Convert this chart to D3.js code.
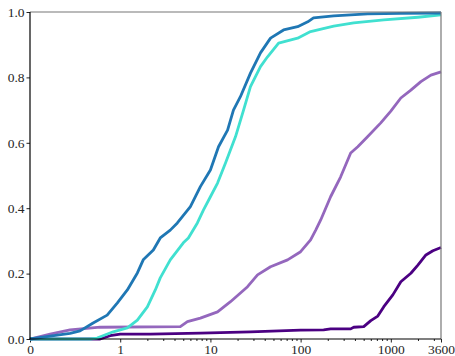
<!DOCTYPE html>
<html>
<head>
<meta charset="utf-8">
<script src="https://cdn.jsdelivr.net/npm/d3@7"></script>
<style>
  body { margin: 0; background: #fff; }
  svg { display: block; }
</style>
</head>
<body>
<div id="holder"></div>
<script>
// x values (seconds), 0 is drawn at the left edge of the log axis
const blueX = [0, 0.167, 0.278, 0.359, 0.501, 0.717, 0.926, 1.2, 1.55, 1.8, 2.33, 2.78, 3.59, 4.3, 6.0, 7.74, 10, 12.3, 15.5, 18.0, 21.5, 27.8, 35.9, 46.4, 64.7, 92.6, 120, 139, 233, 555, 1291, 3600];
const blueY = [0, 0.009, 0.017, 0.025, 0.049, 0.073, 0.110, 0.150, 0.202, 0.242, 0.272, 0.309, 0.333, 0.355, 0.405, 0.466, 0.517, 0.588, 0.639, 0.700, 0.741, 0.813, 0.875, 0.920, 0.945, 0.955, 0.970, 0.982, 0.988, 0.994, 0.996, 0.997];

const turqX = [0, 0.464, 0.555, 0.836, 1.2, 1.55, 2.0, 2.45, 2.78, 3.59, 5.01, 5.7, 7.17, 8.36, 10, 12.0, 14.7, 19.0, 23.3, 27.8, 35.9, 43.0, 57.0, 92.6, 129, 233, 388, 836, 1995, 3600];
const turqY = [0, 0, 0.003, 0.022, 0.034, 0.058, 0.098, 0.150, 0.187, 0.242, 0.294, 0.309, 0.355, 0.394, 0.435, 0.477, 0.538, 0.619, 0.700, 0.772, 0.833, 0.863, 0.905, 0.920, 0.940, 0.957, 0.967, 0.976, 0.984, 0.991];

const purpleX = [0, 0.167, 0.278, 0.599, 4.64, 5.56, 7.74, 12.0, 16.7, 25.8, 33.3, 46.4, 71.7, 100, 129, 147, 167, 215, 278, 359, 430, 555, 774, 1000, 1291, 1668, 2154, 2783, 3600];
const purpleY = [0, 0.015, 0.028, 0.036, 0.038, 0.053, 0.064, 0.083, 0.114, 0.160, 0.196, 0.221, 0.242, 0.267, 0.303, 0.333, 0.364, 0.435, 0.496, 0.569, 0.588, 0.619, 0.661, 0.697, 0.737, 0.761, 0.787, 0.807, 0.817];

const indigoX = [0, 0.6, 0.774, 1.0, 2.15, 7.74, 27.8, 100, 180, 215, 359, 388, 501, 600, 717, 836, 1053, 1291, 1668, 1995, 2449, 2929, 3600];
const indigoY = [0, 0, 0.010, 0.015, 0.015, 0.018, 0.022, 0.027, 0.028, 0.031, 0.031, 0.036, 0.038, 0.056, 0.070, 0.099, 0.135, 0.175, 0.201, 0.226, 0.257, 0.270, 0.280];

const xTicks = [0, 1, 10, 100, 1000, 3600];
const yTicks = [0, 0.2, 0.4, 0.6, 0.8, 1.0];

const series = [
    { xs: indigoX, ys: indigoY, color: "#4b0082" },
    { xs: purpleX, ys: purpleY, color: "#9467bd" },
    { xs: turqX, ys: turqY, color: "#40e0d0" },
    { xs: blueX, ys: blueY, color: "#1f77b4" }
];

const width = 455;
const height = 356;
const plotLeft = 30, plotRight = 441, plotTop = 12, plotBottom = 339;

const xMin = 0.1; // where "0" sits on the log axis
const fixX = (v) => v <= 0 ? xMin : v;

const xScale = d3.scaleLog().domain([xMin, 3600]).range([plotLeft, plotRight]);
const yScale = d3.scaleLinear().domain([0, 1]).range([plotBottom, plotTop]);

const svg = d3.select("#holder")
    .append("svg")
    .attr("width", width)
    .attr("height", height);

const styleAxis = (g) => {
    g.select(".domain").remove();
    g.selectAll("line").attr("stroke", "#222");
    g.selectAll("text")
        .attr("fill", "#262626")
        .style("font-family", "'Liberation Serif'")
        .style("font-size", "13.5px");
};

// minor x ticks
const minor = [];
[1, 10, 100, 1000].forEach(d => {
    for (let k = 2; k <= 9; k++) {
        if (d * k < 3600) minor.push(d * k);
    }
});
svg.append("g")
    .attr("transform", `translate(0, ${plotBottom})`)
    .call(d3.axisBottom(xScale).tickValues(minor).tickSize(2).tickFormat(""))
    .call(styleAxis);

const xAxis = d3.axisBottom(xScale)
    .tickValues(xTicks.map(fixX))
    .tickSize(3.5)
    .tickPadding(2)
    .tickFormat(d => d === xMin ? "0" : String(d));

svg.append("g")
    .attr("transform", `translate(0, ${plotBottom})`)
    .call(xAxis)
    .call(styleAxis);

const yAxis = d3.axisLeft(yScale)
    .tickValues(yTicks)
    .tickSize(3.5)
    .tickPadding(2)
    .tickFormat(d3.format(".1f"));

svg.append("g")
    .attr("transform", `translate(${plotLeft}, 0)`)
    .call(yAxis)
    .call(styleAxis);

const line = d3.line()
    .x(d => xScale(fixX(d[0])))
    .y(d => yScale(d[1]));

series.forEach(s => {
    svg.append("path")
        .datum(s.xs.map((x, i) => [x, s.ys[i]]))
        .attr("fill", "none")
        .attr("stroke", s.color)
        .attr("stroke-width", 2.8)
        .attr("stroke-linejoin", "round")
        .attr("d", line);
});

// spines
svg.append("line").attr("x1", plotLeft).attr("x2", plotRight).attr("y1", plotTop).attr("y2", plotTop)
    .attr("stroke", "#777").attr("stroke-width", 1.2);
svg.append("line").attr("x1", plotRight).attr("x2", plotRight).attr("y1", plotTop).attr("y2", plotBottom)
    .attr("stroke", "#777").attr("stroke-width", 1.2);
svg.append("line").attr("x1", plotLeft).attr("x2", plotLeft).attr("y1", plotTop).attr("y2", plotBottom + 0.5)
    .attr("stroke", "#000").attr("stroke-width", 1.2);
svg.append("line").attr("x1", plotLeft - 0.5).attr("x2", plotRight).attr("y1", plotBottom).attr("y2", plotBottom)
    .attr("stroke", "#000").attr("stroke-width", 1.2);
</script>
</body>
</html>
